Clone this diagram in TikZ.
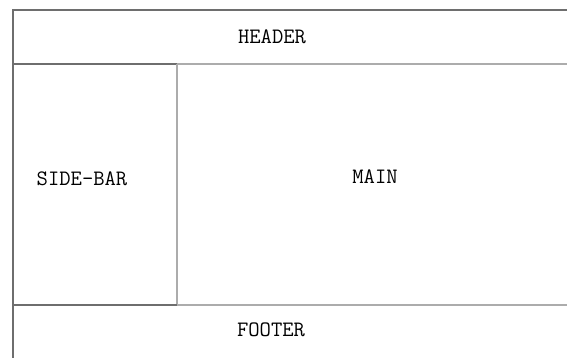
\documentclass[tikz,border=0pt]{standalone}
\begin{document}
\begin{tikzpicture}[x=1pt,y=-1pt,
  dark/.style={draw={rgb,255:red,110;green,110;blue,110}, line width=1.4pt},
  light/.style={draw={rgb,255:red,172;green,172;blue,172}, line width=1.4pt},
  label/.style={font=\fontsize{22}{25}\selectfont\ttfamily, text=black, inner sep=0pt, anchor=center}]
\useasboundingbox (0,0) rectangle (567,358);
\clip (0,0) rectangle (567,358);
% corner coordinates
\coordinate (tl) at (13,10);
\coordinate (tr) at (567,10);
\coordinate (hl) at (13,64);
\coordinate (hm) at (177,64);
\coordinate (hr) at (567,64);
\coordinate (fl) at (13,305);
\coordinate (fm) at (177,305);
\coordinate (fr) at (567,305);
\coordinate (bl) at (13,358);
% borders
\draw[dark] (tr) -- (tl) -- (bl);
\draw[dark] (hl) -- (hm);
\draw[light] (hm) -- (hr);
\draw[light] (hm) -- (fm);
\draw[dark] (fl) -- (fm);
\draw[light] (fm) -- (fr);
% labels
\node[label] (header) at (272,37) {HEADER};
\node[label] (sidebar) at (82,179) {SIDE-BAR};
\node[label] (main) at (375,177) {MAIN};
\node[label] (footer) at (271,330) {FOOTER};
\end{tikzpicture}
\end{document}
